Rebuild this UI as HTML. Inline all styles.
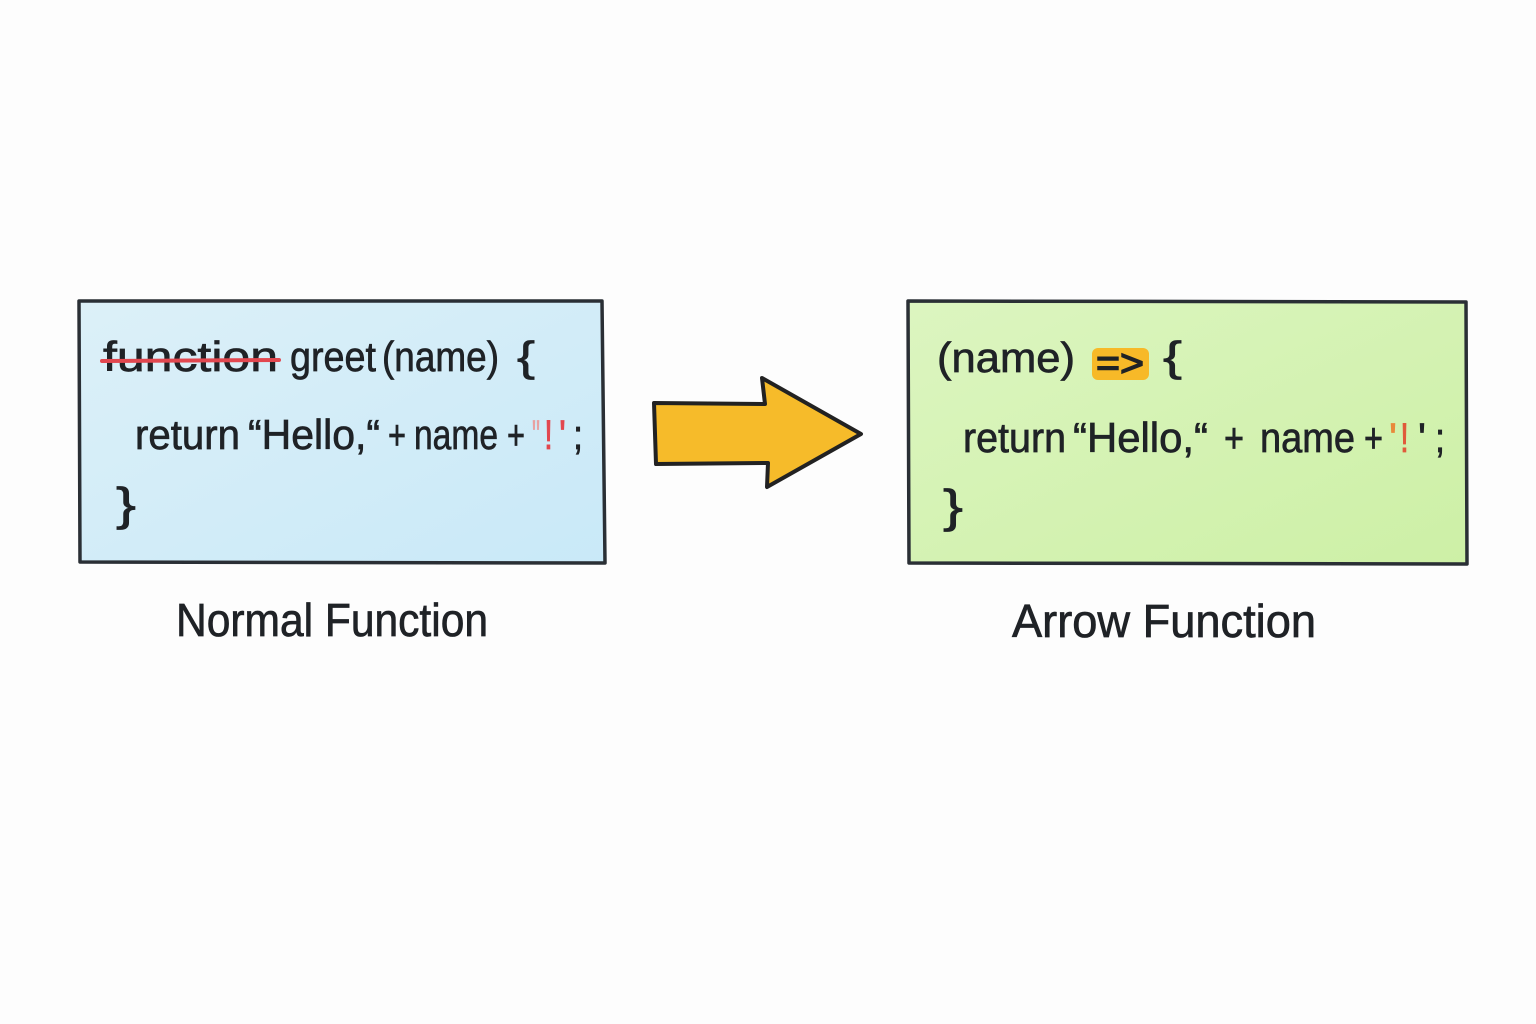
<!DOCTYPE html>
<html>
<head>
<meta charset="utf-8">
<style>
  html,body{margin:0;padding:0;background:#fdfdfd;}
  svg{display:block;}
  text{font-family:"Liberation Sans","DejaVu Sans",sans-serif;fill:#1f2226;stroke:#1f2226;stroke-width:0.7;}
</style>
</head>
<body>
<svg width="1536" height="1024" viewBox="0 0 1536 1024" xmlns="http://www.w3.org/2000/svg">
  <defs>
    <linearGradient id="blue" x1="0" y1="0" x2="1" y2="1">
      <stop offset="0" stop-color="#dcf0f8"/>
      <stop offset="1" stop-color="#c9e9f8"/>
    </linearGradient>
    <linearGradient id="green" x1="0" y1="0" x2="1" y2="1">
      <stop offset="0" stop-color="#dcf5c0"/>
      <stop offset="1" stop-color="#cdf0a6"/>
    </linearGradient>
  </defs>
  <rect width="1536" height="1024" fill="#fdfdfd"/>

  <!-- Blue box -->
  <path d="M79,301 L602,301 L605,563 L80,562 Z" fill="url(#blue)" stroke="#2a2f35" stroke-width="3.5" stroke-linejoin="round"/>

  <!-- line 1 -->
  <text x="103" y="371" font-size="42" textLength="175" lengthAdjust="spacingAndGlyphs">function</text>
  <line x1="102" y1="361" x2="279" y2="360" stroke="#e2474f" stroke-width="4" stroke-linecap="round"/>
  <text x="290" y="371" font-size="42" textLength="86" lengthAdjust="spacingAndGlyphs">greet</text>
  <text x="382" y="371" font-size="42" textLength="117" lengthAdjust="spacingAndGlyphs">(name)</text>
  <text x="517" y="371" font-size="42" textLength="18" lengthAdjust="spacingAndGlyphs">{</text>

  <!-- line 2 -->
  <text x="135" y="449" font-size="42" textLength="105" lengthAdjust="spacingAndGlyphs">return</text>
  <text x="248" y="449" font-size="42" textLength="132" lengthAdjust="spacingAndGlyphs">“Hello,“</text>
  <text x="388" y="449" font-size="42" textLength="18" lengthAdjust="spacingAndGlyphs">+</text>
  <text x="414" y="449" font-size="42" textLength="84" lengthAdjust="spacingAndGlyphs">name</text>
  <text x="507" y="449" font-size="42" textLength="18" lengthAdjust="spacingAndGlyphs">+</text>
  <text x="532" y="449" font-size="42" style="fill:#e8a0a0;stroke:#e8a0a0" textLength="8" lengthAdjust="spacingAndGlyphs">"</text>
  <text x="544" y="449" font-size="42" style="fill:#e2474f;stroke:#e2474f" textLength="9" lengthAdjust="spacingAndGlyphs">!</text>
  <text x="559" y="449" font-size="42" style="fill:#e2474f;stroke:#e2474f" textLength="7" lengthAdjust="spacingAndGlyphs">'</text>
  <text x="573" y="449" font-size="42" textLength="10" lengthAdjust="spacingAndGlyphs">;</text>

  <!-- line 3 -->
  <text x="116" y="520" font-size="46" textLength="20" lengthAdjust="spacingAndGlyphs">}</text>

  <!-- Arrow -->
  <path d="M654,403 L765,404 L762,378 L861,434 L767,487 L768,463 L656,464 Z" fill="#f6bb2a" stroke="#222" stroke-width="4" stroke-linejoin="round"/>

  <!-- Green box -->
  <path d="M908,301 L1466,302 L1467,564 L909,563 Z" fill="url(#green)" stroke="#2a2f35" stroke-width="3.5" stroke-linejoin="round"/>

  <text x="937" y="372" font-size="42" textLength="138" lengthAdjust="spacingAndGlyphs">(name)</text>
  <rect x="1092" y="348" width="57" height="32" rx="6" fill="#f7b928"/>
  <text x="1096" y="376" font-size="38" textLength="48" lengthAdjust="spacingAndGlyphs" style="stroke-width:1.4">=&gt;</text>
  <text x="1163" y="371" font-size="42" textLength="19" lengthAdjust="spacingAndGlyphs">{</text>

  <text x="963" y="452" font-size="42" textLength="103" lengthAdjust="spacingAndGlyphs">return</text>
  <text x="1073" y="452" font-size="42" textLength="135" lengthAdjust="spacingAndGlyphs">“Hello,“</text>
  <text x="1224" y="452" font-size="42" textLength="20" lengthAdjust="spacingAndGlyphs">+</text>
  <text x="1260" y="452" font-size="42" textLength="95" lengthAdjust="spacingAndGlyphs">name</text>
  <text x="1364" y="452" font-size="42" textLength="19" lengthAdjust="spacingAndGlyphs">+</text>
  <text x="1389" y="452" font-size="42" style="fill:#e8893a;stroke:#e8893a" textLength="8" lengthAdjust="spacingAndGlyphs">'</text>
  <text x="1400" y="452" font-size="42" style="fill:#e05a3a;stroke:#e05a3a" textLength="9" lengthAdjust="spacingAndGlyphs">!</text>
  <text x="1418" y="452" font-size="42" textLength="8" lengthAdjust="spacingAndGlyphs">'</text>
  <text x="1435" y="452" font-size="42" textLength="10" lengthAdjust="spacingAndGlyphs">;</text>

  <text x="943" y="522" font-size="46" textLength="20" lengthAdjust="spacingAndGlyphs">}</text>

  <!-- Labels -->
  <text x="176" y="636" font-size="46" textLength="312" lengthAdjust="spacingAndGlyphs">Normal Function</text>
  <text x="1012" y="637" font-size="46" textLength="304" lengthAdjust="spacingAndGlyphs">Arrow Function</text>
</svg>
</body>
</html>
